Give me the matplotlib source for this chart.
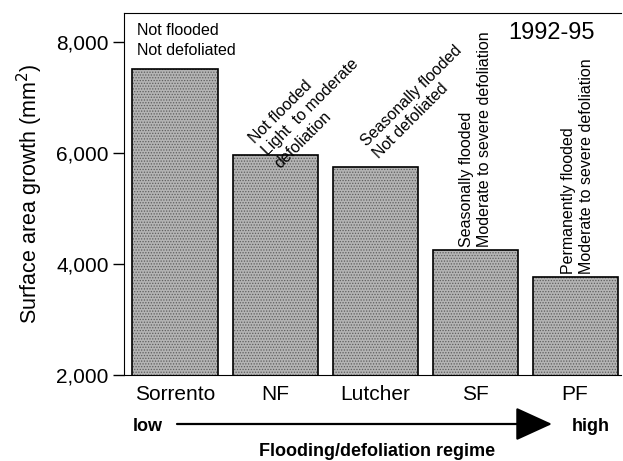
import matplotlib.pyplot as plt
from matplotlib.patches import FancyArrowPatch

plt.rcParams['font.family'] = ['Liberation Sans', 'DejaVu Sans']
plt.rcParams['hatch.linewidth'] = 0.6

sites = ["Sorrento", "NF", "Lutcher", "SF", "PF"]
growth = [7510, 5960, 5750, 4250, 3760]
regime_notes = [
    "Not flooded\nNot defoliated",
    "Not flooded\nLight  to moderate\ndefoliation",
    "Seasonally flooded\nNot defoliated",
    "Seasonally flooded\nModerate to severe defoliation",
    "Permanently flooded\nModerate to severe defoliation",
]


def draw_chart():
    fig = plt.figure(figsize=(6.23, 4.61), dpi=100)
    ax = fig.add_axes([0.199, 0.186, 0.798, 0.786])
    x = range(len(sites))

    # stippled fill, then a plain black outline on top
    ax.bar(x, growth, width=0.85, bottom=0, color='#b4b4b4', edgecolor='#5e5e5e',
           hatch='......', linewidth=0)
    ax.bar(x, growth, width=0.85, bottom=0, fill=False, edgecolor='black', linewidth=1.2)

    ax.set_ylim(2000, 8520)
    ax.set_xlim(-0.51, 4.46)
    ax.set_yticks([2000, 4000, 6000, 8000])
    ax.set_yticklabels(["2,000", "4,000", "6,000", "8,000"], fontsize=15)
    ax.set_xticks(list(x))
    ax.set_xticklabels(sites, fontsize=15)
    ax.tick_params(axis='x', length=0, pad=7)
    ax.tick_params(axis='y', direction='out', length=8, width=1, pad=3)
    ax.spines['right'].set_visible(False)
    ax.set_ylabel("Surface area growth (mm$^2$)", fontsize=15.5, labelpad=8)

    # notes above the bars
    ax.text(-0.38, 8020, regime_notes[0], fontsize=11.5, ha='left', va='center', linespacing=1.45)
    ax.text(1.07, 5680, regime_notes[1], fontsize=11.5, rotation=45, rotation_mode='anchor',
            ha='left', va='bottom', linespacing=1.2)
    ax.text(2.06, 5850, regime_notes[2], fontsize=11.5, rotation=45, rotation_mode='anchor',
            ha='left', va='bottom', linespacing=1.2)
    ax.text(3.0, 4310, regime_notes[3], fontsize=11.5, rotation=90, ha='center', va='bottom',
            multialignment='left', linespacing=1.25)
    ax.text(4.02, 3830, regime_notes[4], fontsize=11.5, rotation=90, ha='center', va='bottom',
            multialignment='left', linespacing=1.25)
    ax.text(4.2, 8150, "1992-95", fontsize=17, ha='right', va='center')

    # low -> high arrow under the axis
    y_arrow = 1 - 424 / 461
    fig.patches.append(FancyArrowPatch(
        (177 / 623, y_arrow), (552 / 623, y_arrow), transform=fig.transFigure,
        arrowstyle='-|>,head_length=2.3,head_width=1.05', mutation_scale=10,
        linewidth=1.6, color='black', shrinkA=0, shrinkB=0))
    fig.text(133 / 623, 1 - 426 / 461, "low", fontsize=13, fontweight='bold', ha='left', va='center')
    fig.text(610 / 623, 1 - 426 / 461, "high", fontsize=13, fontweight='bold', ha='right', va='center')
    fig.text(377 / 623, 1 - 451 / 461, "Flooding/defoliation regime", fontsize=13,
             fontweight='bold', ha='center', va='center')

    fig.savefig("out.png", dpi=100)
    plt.close(fig)


draw_chart()
